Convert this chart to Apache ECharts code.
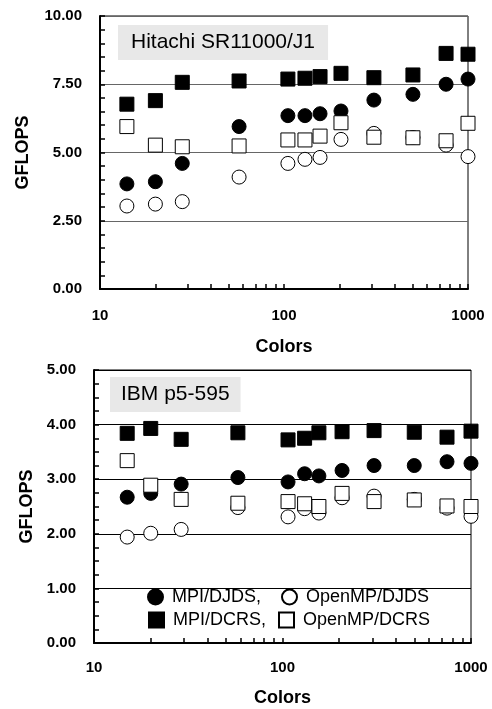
<!DOCTYPE html>
<html>
<head>
<meta charset="utf-8">
<script src="https://cdn.jsdelivr.net/npm/echarts@6/dist/echarts.min.js"></script>
<style>
html,body{margin:0;padding:0;background:#fff;}
#main{width:492px;height:709px;}
</style>
</head>
<body>
<div id="main"></div>
<script>
// x values (number of colors)
var hitColors = [14, 20, 28, 57, 105, 130, 157, 204, 308, 502, 760, 1000];
var ibmColors = [15, 20, 29, 58, 107, 131, 156, 207, 306, 500, 746, 1000];

// Hitachi SR11000/J1
var hitMpiDjds = [3.85, 3.93, 4.6, 5.95, 6.35, 6.35, 6.42, 6.52, 6.92, 7.13, 7.5, 7.69];
var hitOmpDjds = [3.04, 3.11, 3.2, 4.1, 4.6, 4.75, 4.82, 5.48, 5.7, 5.55, 5.27, 4.85];
var hitMpiDcrs = [6.77, 6.9, 7.57, 7.62, 7.69, 7.72, 7.78, 7.9, 7.74, 7.84, 8.63, 8.6];
var hitOmpDcrs = [5.95, 5.27, 5.21, 5.24, 5.46, 5.46, 5.6, 6.09, 5.56, 5.54, 5.43, 6.07];

// IBM p5-595
var ibmMpiDjds = [2.67, 2.74, 2.91, 3.03, 2.95, 3.1, 3.06, 3.16, 3.25, 3.25, 3.32, 3.29];
var ibmOmpDjds = [1.94, 2.01, 2.08, 2.48, 2.31, 2.46, 2.38, 2.66, 2.69, 2.63, 2.47, 2.32];
var ibmMpiDcrs = [3.84, 3.93, 3.73, 3.85, 3.72, 3.75, 3.85, 3.87, 3.89, 3.86, 3.77, 3.88];
var ibmOmpDcrs = [3.34, 2.89, 2.63, 2.56, 2.59, 2.55, 2.5, 2.74, 2.59, 2.62, 2.51, 2.5];

var xTicks = [10,20,30,40,50,60,70,80,90,100,200,300,400,500,600,700,800,900,1000];
var xLabels = [10, 100, 1000];

var FONT = 'Arial, "Liberation Sans", sans-serif';

function pairs(xs, ys){
	return xs.map(function(x, i){ return [x, ys[i]]; });
}

var looks = {
	'MPI/DJDS':    {symbol:'circle', fill:'#000'},
	'OpenMP/DJDS': {symbol:'circle', fill:'#fff'},
	'MPI/DCRS':    {symbol:'rect',   fill:'#000'},
	'OpenMP/DCRS': {symbol:'rect',   fill:'#fff'}
};

function mkSeries(name, idx, xs, ys){
	var l = looks[name];
	return {
		name: name,
		type: 'scatter',
		xAxisIndex: idx,
		yAxisIndex: idx,
		symbol: l.symbol,
		symbolSize: 14,
		clip: false,
		itemStyle: {color: l.fill, borderColor: '#000', borderWidth: 1, opacity: 1},
		emphasis: {disabled: true},
		data: pairs(xs, ys)
	};
}

function mkX(idx, margin, gap){
	return {
		type: 'log', logBase: 10, gridIndex: idx, min: 10, max: 1000,
		name: 'Colors', nameLocation: 'middle', nameGap: gap,
		nameTextStyle: {fontFamily: FONT, fontWeight: 'bold', fontSize: 18, color: '#000'},
		axisLine: {lineStyle: {color: '#000', width: 2}},
		axisTick: {inside: true, length: 5, customValues: xTicks, lineStyle: {color: '#000', width: 1.5}},
		axisLabel: {customValues: xLabels, margin: margin, fontFamily: FONT, fontWeight: 'bold', fontSize: 15, color: '#000',
			formatter: function(v){ return String(Math.round(v)); }},
		splitLine: {show: false},
		minorTick: {show: false}
	};
}

function mkY(idx, max, interval, minorSplit, gridColor, gap){
	return {
		type: 'value', gridIndex: idx, min: 0, max: max, interval: interval,
		name: 'GFLOPS', nameLocation: 'middle', nameGap: gap, nameRotate: 90,
		nameTextStyle: {fontFamily: FONT, fontWeight: 'bold', fontSize: 18, color: '#000'},
		axisLine: {show: true, lineStyle: {color: '#000', width: 2}},
		axisTick: {show: true, inside: true, length: 5, lineStyle: {color: '#000', width: 1.5}},
		minorTick: {show: true, splitNumber: minorSplit, length: 5, lineStyle: {color: '#000', width: 1.5}},
		axisLabel: {margin: 18, fontFamily: FONT, fontWeight: 'bold', fontSize: 15, color: '#000',
			formatter: function(v){ return v.toFixed(2); }},
		splitLine: {show: true, lineStyle: {color: gridColor, width: 1}}
	};
}

function mkLegend(name, left, top, label){
	return {
		data: [name], left: left, top: top, padding: 0,
		itemWidth: 15, itemHeight: 15, selectedMode: false,
		formatter: function(){ return label; },
		textStyle: {fontFamily: FONT, fontSize: 18, color: '#000', padding: [0, 0, 0, 4]}
	};
}

var myChart = echarts.init(document.getElementById('main'));

var option = {
	backgroundColor: '#fff',
	animation: false,
	title: [
		{text: 'Hitachi SR11000/J1', left: 118, top: 25, padding: [7, 13], backgroundColor: '#e8e8e8',
			textStyle: {fontFamily: FONT, fontWeight: 'normal', fontSize: 21, color: '#000'}},
		{text: 'IBM p5-595', left: 110, top: 377, padding: [7, 11], backgroundColor: '#e8e8e8',
			textStyle: {fontFamily: FONT, fontWeight: 'normal', fontSize: 21, color: '#000'}}
	],
	grid: [
		{left: 100, right: 24, top: 16, height: 273, show: true, borderColor: '#000', borderWidth: 1},
		{left: 94, right: 21, top: 370, height: 273, show: true, borderColor: '#000', borderWidth: 1}
	],
	legend: [
		mkLegend('MPI/DJDS', 147, 588, 'MPI/DJDS,'),
		mkLegend('OpenMP/DJDS', 281, 588, 'OpenMP/DJDS'),
		mkLegend('MPI/DCRS', 148, 611, 'MPI/DCRS,'),
		mkLegend('OpenMP/DCRS', 278, 611, 'OpenMP/DCRS')
	],
	xAxis: [mkX(0, 19, 49), mkX(1, 17, 46)],
	yAxis: [mkY(0, 10, 2.5, 5, '#666', 68), mkY(1, 5, 1, 4, '#000', 58)],
	series: [
		mkSeries('MPI/DJDS', 0, hitColors, hitMpiDjds),
		mkSeries('OpenMP/DJDS', 0, hitColors, hitOmpDjds),
		mkSeries('MPI/DCRS', 0, hitColors, hitMpiDcrs),
		mkSeries('OpenMP/DCRS', 0, hitColors, hitOmpDcrs),
		mkSeries('MPI/DJDS', 1, ibmColors, ibmMpiDjds),
		mkSeries('OpenMP/DJDS', 1, ibmColors, ibmOmpDjds),
		mkSeries('MPI/DCRS', 1, ibmColors, ibmMpiDcrs),
		mkSeries('OpenMP/DCRS', 1, ibmColors, ibmOmpDcrs)
	]
};

myChart.setOption(option);
window.onresize = myChart.resize;
</script>
</body>
</html>
